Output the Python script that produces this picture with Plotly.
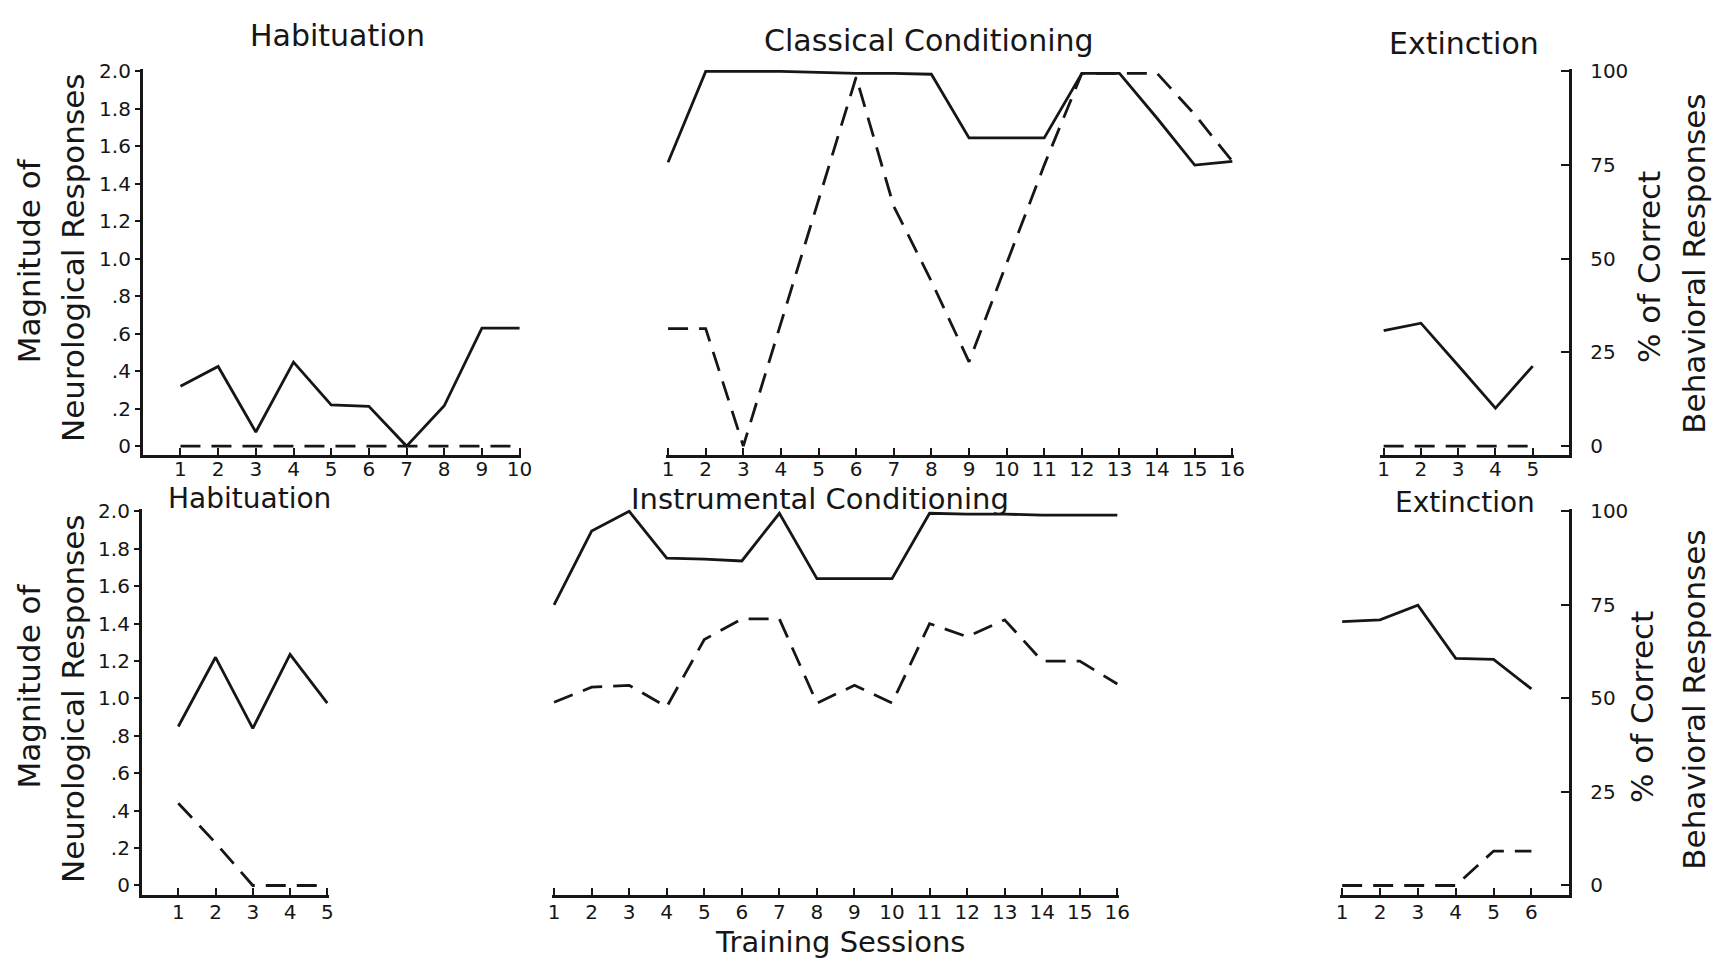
import plotly.graph_objects as go

W, H = 1725, 959
FONT = "DejaVu Sans"
INK = "#161616"

# ---- data: magnitude of neurological responses (solid) / % correct (dashed), on the 0-2.0 scale ----
hab1_sessions = list(range(1, 11))
hab1_solid = [0.32, 0.425, 0.075, 0.448, 0.22, 0.212, 0.0, 0.215, 0.63, 0.63]
hab1_dashed = [0, 0, 0, 0, 0, 0, 0, 0, 0, 0]

classical_sessions = list(range(1, 17))
classical_solid = [1.515, 2.0, 2.0, 2.0, 1.995, 1.99, 1.99, 1.985, 1.645, 1.645, 1.645, 1.99, 1.99, 1.75, 1.50, 1.52]
classical_dashed = [0.627, 0.627, 0.0, 0.66, 1.31, 1.97, 1.28, 0.88, 0.45, 0.97, 1.50, 1.99, 1.99, 1.99, 1.77, 1.52]

ext1_sessions = list(range(1, 6))
ext1_solid = [0.616, 0.656, 0.43, 0.203, 0.427]
ext1_dashed = [0, 0, 0, 0, 0]

hab2_sessions = list(range(1, 6))
hab2_solid = [0.85, 1.22, 0.84, 1.235, 0.975]
hab2_dashed = [0.44, 0.228, 0.0, 0.0, 0.0]

instr_sessions = list(range(1, 17))
instr_solid = [1.50, 1.895, 2.0, 1.75, 1.745, 1.735, 1.99, 1.64, 1.64, 1.64, 1.99, 1.985, 1.985, 1.98, 1.98, 1.98]
instr_dashed = [0.98, 1.06, 1.07, 0.955, 1.315, 1.425, 1.425, 0.975, 1.07, 0.975, 1.40, 1.33, 1.42, 1.20, 1.20, 1.077]

ext2_sessions = list(range(1, 7))
ext2_solid = [1.411, 1.42, 1.499, 1.214, 1.209, 1.051]
ext2_dashed = [0, 0, 0, 0, 0.184, 0.184]

mag_ticks = [0, 0.2, 0.4, 0.6, 0.8, 1.0, 1.2, 1.4, 1.6, 1.8, 2.0]
mag_labels = ["0", ".2", ".4", ".6", ".8", "1.0", "1.2", "1.4", "1.6", "1.8", "2.0"]
pct_ticks = [0, 25, 50, 75, 100]
pct_labels = ["0", "25", "50", "75", "100"]


def px_x(p):
    return p / W


def px_y(p):
    return 1 - p / H


fig = go.Figure()

panels = [
    ("x", "y", hab1_sessions, hab1_solid, hab1_dashed),
    ("x2", "y", classical_sessions, classical_solid, classical_dashed),
    ("x3", "y", ext1_sessions, ext1_solid, ext1_dashed),
    ("x4", "y3", hab2_sessions, hab2_solid, hab2_dashed),
    ("x5", "y3", instr_sessions, instr_solid, instr_dashed),
    ("x6", "y3", ext2_sessions, ext2_solid, ext2_dashed),
]
for xa, ya, xs, solid, dashed in panels:
    fig.add_trace(go.Scatter(x=xs, y=dashed, xaxis=xa, yaxis=ya, mode="lines",
                             line=dict(color=INK, width=2.8, dash="20px,11px"),
                             showlegend=False, hoverinfo="skip"))
    fig.add_trace(go.Scatter(x=xs, y=solid, xaxis=xa, yaxis=ya, mode="lines",
                             line=dict(color=INK, width=2.8),
                             showlegend=False, hoverinfo="skip"))

tickfont = dict(family=FONT, size=20, color=INK)


def xaxis(dom_px, rng, ticks, anchor, standoff):
    return dict(domain=[px_x(dom_px[0]), px_x(dom_px[1])], range=rng, anchor=anchor,
                showline=True, linecolor=INK, linewidth=3, ticks="inside", ticklen=7,
                tickwidth=2, tickcolor=INK, tickvals=ticks, ticktext=[str(t) for t in ticks],
                tickfont=tickfont, ticklabelstandoff=standoff,
                showgrid=False, zeroline=False, fixedrange=True)


def left_axis(dom, rng, anchor):
    return dict(domain=dom, range=rng, anchor=anchor, showline=True, linecolor=INK,
                linewidth=2.8, ticks="outside", ticklen=5, tickwidth=2, tickcolor=INK,
                tickvals=mag_ticks, ticktext=mag_labels, tickfont=tickfont,
                showgrid=False, zeroline=False, fixedrange=True)


def right_axis(over, rng, anchor):
    return dict(overlaying=over, side="right", anchor=anchor,
                range=[rng[0] * 50, rng[1] * 50], showline=True, linecolor=INK,
                linewidth=2.8, ticks="inside", ticklen=8, tickwidth=2, tickcolor=INK,
                tickvals=pct_ticks, ticktext=pct_labels, tickfont=tickfont,
                ticklabelstandoff=14, showgrid=False, zeroline=False, fixedrange=True)


top_dom = [px_y(451), px_y(60)]
bot_dom = [px_y(897), px_y(506)]
top_rng = [-0.047, 2.012]
bot_rng = [-0.050, 2.012]

fig.update_layout(
    width=W, height=H, margin=dict(l=0, r=0, t=0, b=0),
    paper_bgcolor="white", plot_bgcolor="white",
    xaxis=xaxis((140, 522), [0.0, 10.05], hab1_sessions, "y", -6),
    xaxis2=xaxis((668, 1241), [0.95, 16.05], classical_sessions, "y", -6),
    xaxis3=xaxis((1388, 1579), [0.9, 5.98], ext1_sessions, "y", -6),
    xaxis4=xaxis((139, 328), [0.02, 5.05], hab2_sessions, "y3", -3),
    xaxis5=xaxis((553, 1125), [0.95, 16.05], instr_sessions, "y3", -3),
    xaxis6=xaxis((1348, 1579), [0.95, 7.0], ext2_sessions, "y3", -3),
    yaxis=left_axis(top_dom, top_rng, "x"),
    yaxis2=right_axis("y", top_rng, "x3"),
    yaxis3=left_axis(bot_dom, bot_rng, "x4"),
    yaxis4=right_axis("y3", bot_rng, "x6"),
)

# placeholder traces so the right-hand percentage axes are drawn
fig.add_trace(go.Scatter(x=[None], y=[None], xaxis="x3", yaxis="y2", showlegend=False))
fig.add_trace(go.Scatter(x=[None], y=[None], xaxis="x6", yaxis="y4", showlegend=False))

titles = [
    ("Habituation", 336, 26, 0, 30),
    ("Classical Conditioning", 933, 31, 0, 30),
    ("Extinction", 1473, 34, 0, 30),
    ("Habituation", 248, 495, 0, 28),
    ("Instrumental Conditioning", 823, 496, 0, 29),
    ("Extinction", 1474, 499, 0, 28),
    ("Training Sessions", 843, 945, 0, 29),
    ("Magnitude of", 25, 254, -90, 31),
    ("Neurological Responses", 69, 251, -90, 31),
    ("Magnitude of", 25, 685, -90, 31),
    ("Neurological Responses", 69, 698, -90, 31),
    ("% of Correct", 1660, 261, -90, 31),
    ("Behavioral Responses", 1704, 257, -90, 31),
    ("% of Correct", 1653, 707, -90, 31),
    ("Behavioral Responses", 1704, 699, -90, 31),
]
for text, xp, yp, ang, size in titles:
    fig.add_annotation(text=text, x=px_x(xp), y=px_y(yp), xref="paper", yref="paper",
                       showarrow=False, textangle=ang, xanchor="center", yanchor="middle",
                       borderpad=0, font=dict(family=FONT, size=size, color=INK))

fig.write_html("out.html")
